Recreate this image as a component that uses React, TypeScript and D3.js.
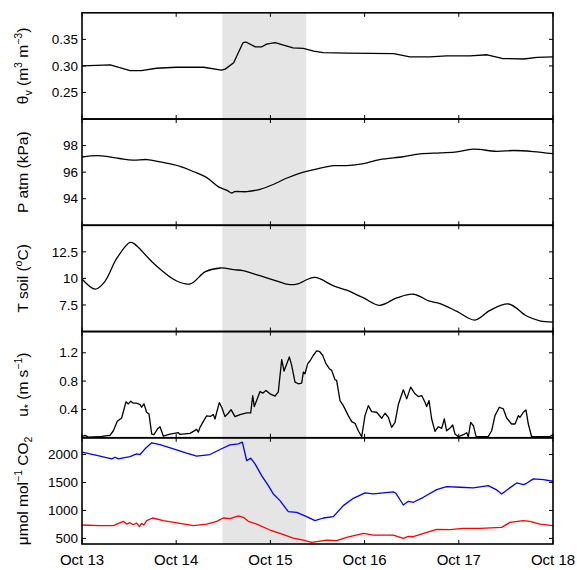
import React from "react";
import * as d3 from "d3";

// days since Oct 13 00:00, value
const thetaV: [number, number][] = [
  [0, 0.3], [0.3, 0.302], [0.51, 0.291], [0.63, 0.291], [0.79, 0.2956], [1.0, 0.2975],
  [1.29, 0.2975], [1.48, 0.292], [1.52, 0.294], [1.61, 0.306], [1.71, 0.344], [1.74, 0.345],
  [1.84, 0.336], [1.91, 0.336], [1.96, 0.341], [2.05, 0.344], [2.14, 0.339], [2.24, 0.334],
  [2.35, 0.333], [2.46, 0.328], [2.56, 0.325], [2.81, 0.324], [3.31, 0.323], [3.48, 0.317],
  [3.69, 0.317], [3.87, 0.319], [4.12, 0.319], [4.3, 0.321], [4.46, 0.314], [4.69, 0.313],
  [4.83, 0.316], [5.0, 0.317],
];

const pAtm: [number, number][] = [
  [0, 97.14], [0.16, 97.24], [0.26, 97.19], [0.4, 97.03], [0.54, 96.9], [0.69, 96.95],
  [0.83, 96.77], [1.04, 96.44], [1.18, 96.05], [1.32, 95.61], [1.45, 94.89], [1.54, 94.63],
  [1.59, 94.43], [1.62, 94.53], [1.75, 94.53], [1.89, 94.71], [2.03, 95.07], [2.17, 95.54],
  [2.35, 96.0], [2.53, 96.31], [2.67, 96.49], [2.81, 96.49], [2.99, 96.65], [3.16, 96.95],
  [3.41, 97.16], [3.59, 97.37], [3.8, 97.45], [3.98, 97.52], [4.15, 97.73], [4.4, 97.57],
  [4.58, 97.63], [4.79, 97.55], [5.0, 97.39],
];

const tSoil: [number, number][] = [
  [0, 9.94], [0.14, 8.99], [0.24, 9.68], [0.37, 11.9], [0.51, 13.39], [0.56, 13.23],
  [0.76, 11.42], [1.0, 9.78], [1.15, 9.49], [1.31, 10.63], [1.47, 10.98], [1.61, 10.82],
  [1.71, 10.73], [1.89, 10.25], [2.07, 9.75], [2.19, 9.43], [2.28, 9.46], [2.47, 10.09],
  [2.67, 9.3], [2.81, 8.89], [2.99, 8.16], [3.16, 7.47], [3.34, 8.16], [3.52, 8.51],
  [3.69, 7.85], [3.8, 7.63], [3.98, 6.9], [4.17, 6.08], [4.33, 6.99], [4.53, 7.59],
  [4.72, 6.46], [4.86, 6.01], [5.0, 5.89],
];

const uStar: [number, number][] = [
  [0, 0.014], [0.032, 0.033], [0.067, 0.009], [0.191, 0.014], [0.226, 0.024], [0.297, 0.033],
  [0.333, 0.099], [0.375, 0.232], [0.421, 0.279], [0.467, 0.507], [0.492, 0.478], [0.517, 0.516],
  [0.545, 0.488], [0.58, 0.488], [0.616, 0.469], [0.633, 0.431], [0.658, 0.478], [0.686, 0.36],
  [0.711, 0.336], [0.74, 0.052], [0.764, 0.043], [0.8, 0.123], [0.828, 0.156], [0.863, 0.024],
  [0.934, 0.052], [1.023, 0.071], [1.04, 0.047], [1.147, 0.062], [1.217, 0.118], [1.235, 0.08],
  [1.253, 0.147], [1.281, 0.213], [1.323, 0.308], [1.366, 0.303], [1.394, 0.327], [1.412, 0.265],
  [1.43, 0.36], [1.458, 0.497], [1.486, 0.421], [1.518, 0.298], [1.553, 0.346], [1.582, 0.398],
  [1.624, 0.298], [1.677, 0.327], [1.748, 0.35], [1.791, 0.35], [1.812, 0.596], [1.829, 0.44],
  [1.854, 0.525], [1.89, 0.653], [1.918, 0.63], [1.953, 0.667], [1.996, 0.62], [2.049, 0.587],
  [2.084, 0.649], [2.12, 1.103], [2.145, 0.942], [2.201, 1.141], [2.226, 1.023], [2.261, 0.786],
  [2.297, 0.762], [2.332, 0.772], [2.35, 0.928], [2.367, 0.904], [2.396, 1.046], [2.42, 1.084],
  [2.456, 1.165], [2.491, 1.226], [2.519, 1.221], [2.555, 1.165], [2.59, 1.046], [2.626, 0.975],
  [2.65, 0.952], [2.686, 0.819], [2.703, 0.809], [2.739, 0.525], [2.774, 0.454], [2.827, 0.312],
  [2.863, 0.227], [2.898, 0.204], [2.933, 0.099], [2.969, 0.014], [3.004, 0.312], [3.04, 0.454],
  [3.075, 0.369], [3.128, 0.36], [3.181, 0.275], [3.217, 0.346], [3.252, 0.289], [3.287, 0.147],
  [3.323, 0.218], [3.358, 0.469], [3.411, 0.677], [3.447, 0.549], [3.489, 0.715], [3.535, 0.62],
  [3.57, 0.582], [3.606, 0.596], [3.641, 0.502], [3.659, 0.44], [3.684, 0.525], [3.712, 0.265],
  [3.747, 0.09], [3.783, 0.156], [3.818, 0.133], [3.846, 0.265], [3.871, 0.099], [3.907, 0.137],
  [3.935, 0.18], [3.96, 0.052], [3.995, 0.014], [4.048, 0.043], [4.084, 0.071], [4.101, 0.014],
  [4.126, 0.218], [4.155, 0.17], [4.183, 0.019], [4.225, 0.014], [4.313, 0.019], [4.349, 0.099],
  [4.384, 0.312], [4.43, 0.431], [4.473, 0.407], [4.508, 0.279], [4.561, 0.194], [4.597, 0.194],
  [4.632, 0.312], [4.65, 0.289], [4.685, 0.36], [4.713, 0.393], [4.738, 0.194], [4.773, 0.014],
  [4.862, 0.014], [4.968, 0.019], [5.0, 0.043],
];

const co2Blue: [number, number][] = [
  [0, 2042], [0.085, 2012], [0.191, 1970], [0.315, 1922], [0.35, 1952], [0.386, 1922],
  [0.439, 1940], [0.51, 1964], [0.58, 2012], [0.616, 2000], [0.669, 2102], [0.74, 2209],
  [0.828, 2179], [0.97, 2102], [1.111, 2024], [1.217, 1970], [1.359, 2000], [1.465, 2090],
  [1.571, 2173], [1.66, 2191], [1.702, 2221], [1.723, 2072], [1.748, 1892], [1.791, 1934],
  [1.837, 1833], [1.907, 1624], [1.978, 1444], [2.031, 1295], [2.102, 1176], [2.19, 978],
  [2.279, 966], [2.385, 889], [2.473, 817], [2.562, 865], [2.668, 889], [2.774, 1086],
  [2.88, 1217], [3.004, 1313], [3.093, 1295], [3.305, 1331], [3.333, 1307], [3.411, 1098],
  [3.464, 1164], [3.517, 1146], [3.624, 1235], [3.765, 1373], [3.871, 1426], [4.013, 1415],
  [4.154, 1403], [4.313, 1444], [4.402, 1367], [4.455, 1295], [4.526, 1385], [4.614, 1492],
  [4.685, 1462], [4.72, 1486], [4.791, 1564], [4.897, 1552], [5.0, 1522],
];

const co2Red: [number, number][] = [
  [0, 740], [0.191, 728], [0.333, 728], [0.439, 805], [0.474, 757], [0.51, 781], [0.545, 745],
  [0.58, 775], [0.609, 710], [0.633, 769], [0.658, 740], [0.686, 817], [0.75, 865], [0.863, 817],
  [1.04, 769], [1.182, 728], [1.323, 757], [1.43, 805], [1.5, 865], [1.571, 853], [1.66, 901],
  [1.713, 877], [1.766, 805], [1.854, 757], [1.996, 650], [2.102, 590], [2.243, 506],
  [2.35, 471], [2.438, 429], [2.597, 471], [2.703, 459], [2.81, 518], [2.987, 590], [3.093, 560],
  [3.305, 560], [3.411, 501], [3.464, 536], [3.517, 530], [3.659, 608], [3.765, 662],
  [3.907, 656], [4.048, 680], [4.225, 680], [4.455, 698], [4.544, 787], [4.685, 817],
  [4.756, 805], [4.862, 757], [5.0, 728],
];

const xTickLabels = ["Oct 13", "Oct 14", "Oct 15", "Oct 16", "Oct 17", "Oct 18"];
const shadedPeriod = [1.49, 2.38];

const thetaTicks = [0.25, 0.3, 0.35];
const pTicks = [94, 96, 98];
const tTicks = [7.5, 10, 12.5];
const uTicks = [0.4, 0.8, 1.2];
const co2Ticks = [500, 1000, 1500, 2000];

const W = 577;
const H = 570;
const left = 82;
const right = 553;
const top = 12.8;
const panelH = 106.24;
const FONT = "'Liberation Sans', Arial, Helvetica, sans-serif";
const LFS = 15.5;
const SFS = 10.5;

const x = d3.scaleLinear().domain([0, 5]).range([left, right]);

const panels = [
  {
    domain: [0.2, 0.4],
    ticks: thetaTicks,
    fmt: d3.format(".2f"),
    series: [{ data: thetaV, color: "#000" }],
    curve: d3.curveLinear,
    label: (
      <>
        θ<tspan fontSize={SFS} dy={4}>v</tspan>
        <tspan dy={-4}> (m</tspan>
        <tspan fontSize={SFS} dy={-6}>3</tspan>
        <tspan dy={6}> m</tspan>
        <tspan fontSize={SFS} dy={-6}>−3</tspan>
        <tspan dy={6}>)</tspan>
      </>
    ),
  },
  {
    domain: [92, 100],
    ticks: pTicks,
    fmt: d3.format("d"),
    series: [{ data: pAtm, color: "#000" }],
    curve: d3.curveCatmullRom,
    label: <>P atm (kPa)</>,
  },
  {
    domain: [5, 15],
    ticks: tTicks,
    fmt: (v: number) => String(v),
    series: [{ data: tSoil, color: "#000" }],
    curve: d3.curveCatmullRom,
    label: (
      <>
        T soil (<tspan fontSize={SFS} dy={-6}>o</tspan>
        <tspan dy={6}>C)</tspan>
      </>
    ),
  },
  {
    domain: [0, 1.5],
    ticks: uTicks,
    fmt: d3.format(".1f"),
    series: [{ data: uStar, color: "#000" }],
    curve: d3.curveLinear,
    label: (
      <>
        u<tspan fontSize={SFS} dy={4}>*</tspan>
        <tspan dy={-4}> (m s</tspan>
        <tspan fontSize={SFS} dy={-6}>−1</tspan>
        <tspan dy={6}>)</tspan>
      </>
    ),
  },
  {
    domain: [400, 2300],
    ticks: co2Ticks,
    fmt: d3.format("d"),
    series: [
      { data: co2Blue, color: "#0000ff" },
      { data: co2Red, color: "#ff0000" },
    ],
    curve: d3.curveLinear,
    label: (
      <>
        μmol mol<tspan fontSize={SFS} dy={-6}>−1</tspan>
        <tspan dy={6}> CO</tspan>
        <tspan fontSize={SFS} dy={4}>2</tspan>
      </>
    ),
  },
];

export default function App() {
  const bottom = top + panelH * panels.length;
  const xTicks = d3.range(0, 6);
  return (
    <svg
      width={W}
      height={H}
      style={{ position: "absolute", left: 0, top: 0, background: "#fff" }}
      fontFamily={FONT}
    >
      <rect
        x={x(shadedPeriod[0])}
        y={top}
        width={x(shadedPeriod[1]) - x(shadedPeriod[0])}
        height={bottom - top}
        fill="#e5e5e5"
      />
      {panels.map((p, i) => {
        const y0 = top + i * panelH;
        const y1 = y0 + panelH;
        const y = d3.scaleLinear().domain(p.domain).range([y1, y0]);
        const line = d3
          .line<[number, number]>()
          .x((d) => x(d[0]))
          .y((d) => y(d[1]))
          .curve(p.curve);
        const clipId = `clip${i}`;
        return (
          <g key={i}>
            <clipPath id={clipId}>
              <rect x={left} y={y0} width={right - left} height={panelH} />
            </clipPath>
            <g clipPath={`url(#${clipId})`}>
              {p.series.map((s, j) => (
                <path key={j} d={line(s.data) || ""} fill="none" stroke={s.color} strokeWidth={1.3} strokeLinejoin="round" />
              ))}
            </g>
            {p.ticks.map((t) => (
              <g key={t}>
                <line x1={left} x2={left + 4} y1={y(t)} y2={y(t)} stroke="#000" />
                <line x1={right - 4} x2={right} y1={y(t)} y2={y(t)} stroke="#000" />
                <text x={left - 4} y={y(t)} dy="0.35em" textAnchor="end" fontSize={13.5}>
                  {p.fmt(t)}
                </text>
              </g>
            ))}
            {xTicks.map((t) => (
              <g key={"x" + t}>
                <line x1={x(t)} x2={x(t)} y1={y1} y2={y1 - 4} stroke="#000" />
                <line x1={x(t)} x2={x(t)} y1={y0} y2={y0 + 4} stroke="#000" />
              </g>
            ))}
            <rect x={left} y={y0} width={right - left} height={panelH} fill="none" stroke="#000" strokeWidth={1.6} />
            <text
              transform={`translate(28,${(y0 + y1) / 2}) rotate(-90)`}
              textAnchor="middle"
              fontSize={LFS}
            >
              {p.label}
            </text>
          </g>
        );
      })}
      {xTickLabels.map((lab, i) => (
        <text key={lab} x={x(i)} y={bottom + 21} textAnchor="middle" fontSize={15}>
          {lab}
        </text>
      ))}
    </svg>
  );
}
